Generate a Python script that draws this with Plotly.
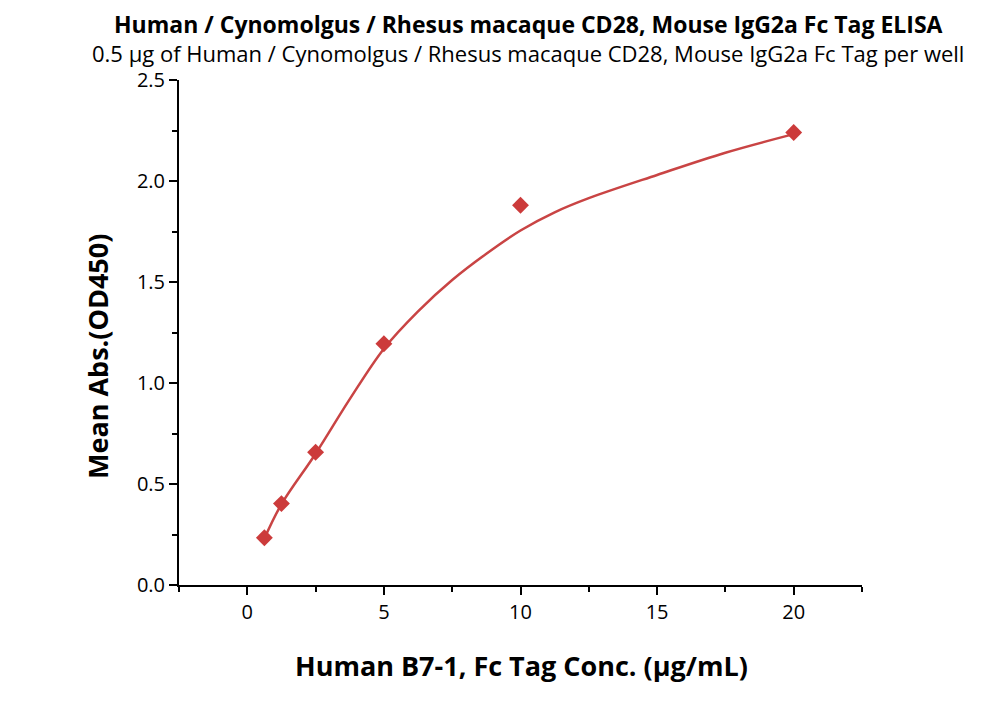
import plotly.graph_objects as go

conc = [0.625, 1.25, 2.5, 5, 10, 20]
od450 = [0.234, 0.403, 0.657, 1.194, 1.88, 2.24]

# fitted curve at a few concentrations
fit_conc = [0.625, 1.25, 2.5, 3.75, 5, 6.25, 7.5, 8.75, 10, 11.25, 12.5, 15, 17.5, 20]
fit_od = [0.23, 0.40, 0.65, 0.92, 1.17, 1.355, 1.51, 1.64, 1.755, 1.845, 1.915, 2.03, 2.14, 2.232]

x_ticks = [0, 5, 10, 15, 20]
y_ticks = [0.0, 0.5, 1.0, 1.5, 2.0, 2.5]

red = "#cc3b3b"
font_name = "Open Sans"

# page is drawn with an 8px body margin, so pixel positions below are screen - 8
off = 8
W, H = 1000, 702
L, R, T, B = 179 - off, W - (862 - off), 80 - off, H - (585 - off)

fig = go.Figure()

fig.add_trace(go.Scatter(
    x=fit_conc, y=fit_od,
    mode="lines",
    line=dict(color="#c94444", width=2.5, shape="spline", smoothing=1.0),
    hoverinfo="skip",
    showlegend=False,
))

fig.add_trace(go.Scatter(
    x=conc, y=od450,
    mode="markers",
    marker=dict(symbol="diamond", size=13, color=red),
    showlegend=False,
))

axis_common = dict(
    showgrid=False,
    zeroline=False,
    showline=True,
    linecolor="black",
    linewidth=2,
    ticks="outside",
    ticklen=8,
    tickwidth=2,
    tickcolor="black",
    tickfont=dict(family=font_name, size=20, color="black"),
)

fig.update_layout(
    width=W, height=H,
    paper_bgcolor="white",
    plot_bgcolor="white",
    margin=dict(l=L, r=R, t=T, b=B),
    xaxis=dict(
        range=[-2.5, 22.5],
        tickvals=x_ticks,
        minor=dict(dtick=2.5, tick0=0, ticks="outside", ticklen=5, tickwidth=2, tickcolor="black"),
        **axis_common,
    ),
    yaxis=dict(
        range=[0, 2.5],
        tickvals=y_ticks,
        tickformat=".1f",
        minor=dict(dtick=0.25, tick0=0, ticks="outside", ticklen=5, tickwidth=2, tickcolor="black"),
        **axis_common,
    ),
)

# text placed by screen pixel position of its centre
labels = [
    ("<b>Human / Cynomolgus / Rhesus macaque CD28, Mouse IgG2a Fc Tag ELISA</b>", 528, 24, 23, 0),
    ("0.5 μg of Human / Cynomolgus / Rhesus macaque CD28, Mouse IgG2a Fc Tag per well", 528, 53, 22, 0),
    ("<b>Human B7-1, Fc Tag Conc. (μg/mL)</b>", 521, 665, 27, 0),
    ("<b>Mean Abs.(OD450)</b>", 97, 357, 27, -90),
]
plot_w = W - L - R
plot_h = H - T - B
for text, px, py, size, angle in labels:
    fig.add_annotation(
        text=text,
        x=(px - off - L) / plot_w,
        y=(H - (py - off) - B) / plot_h,
        xref="paper", yref="paper",
        xanchor="center", yanchor="middle",
        showarrow=False, textangle=angle,
        font=dict(family=font_name, size=size, color="black"),
    )

fig.write_html("out.html")
